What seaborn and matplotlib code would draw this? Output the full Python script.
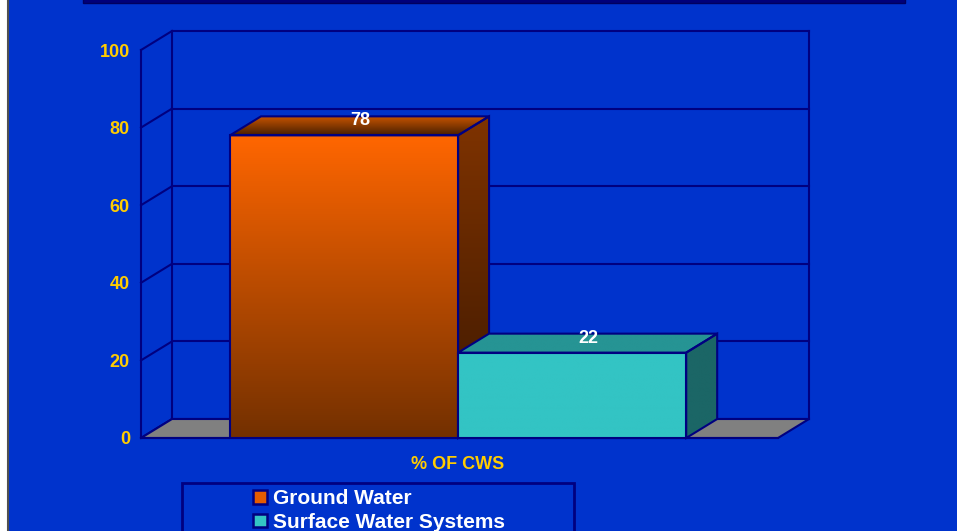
import numpy as np
import pandas as pd
import matplotlib
matplotlib.use('Agg')
import matplotlib.pyplot as plt
from matplotlib.patches import Polygon, Rectangle
from matplotlib.lines import Line2D
import matplotlib.colors as mcolors
import seaborn as sns

# ---------------- data ----------------
category = ["% OF CWS"]
series = ["Ground Water", "Surface Water Systems"]
values = [78, 22]
yticks = [0, 20, 40, 60, 80, 100]

# ---------------- style ----------------
BG = '#0033CC'
NAVY = '#000080'
YELLOW = '#FFCC00'
ORANGE = '#FF6600'
TEAL = '#33C4C4'
face_cols = {
    "Ground Water": dict(front=('#FF6600', '#733000'), top=('#C85400', '#4A2000'),
                         side=('#7F3300', '#3D1800'), legend='#E45C00'),
    "Surface Water Systems": dict(front=(TEAL, TEAL), top=('#269494', '#269494'),
                                  side=('#1B6666', '#1B6666'), legend=TEAL),
}

sns.set_style('white')
plt.rcParams['font.family'] = ['Liberation Sans', 'DejaVu Sans']

W, H = 957, 531
fig = plt.figure(figsize=(W / 100, H / 100), dpi=100, facecolor=BG)
ax = fig.add_axes([141 / W, (H - 438) / H, (778 - 141) / W, (438 - 50) / H])
ax.set_facecolor('none')

df = pd.DataFrame({'cat': category * len(series), 'series': series, 'value': values})
sns.barplot(data=df, x='cat', y='value', hue='series', hue_order=series,
            palette=[ORANGE, TEAL], width=0.8, saturation=1,
            edgecolor=NAVY, linewidth=1.5, ax=ax, legend=False)

XL, XR = -0.556, 0.561
ax.set_xlim(XL, XR)
ax.set_ylim(0, 100)

# depth offset (31 px right, 19 px up) converted to data units
p0 = ax.transData.transform((0, 0))
p1 = p0 + np.array([31, 19]) * fig.dpi / 100
ddx, ddy = ax.transData.inverted().transform(p1)


def grad_fill(clip, pts, top_col, bot_col, z):
    xs = [v[0] for v in pts]
    ys = [v[1] for v in pts]
    c0 = np.array(mcolors.to_rgb(bot_col))
    c1 = np.array(mcolors.to_rgb(top_col))
    t = np.linspace(0, 1, 128)[:, None]
    arr = (c0 * (1 - t) + c1 * t)[:, None, :]
    im = ax.imshow(arr, extent=[min(xs), max(xs), min(ys), max(ys)], origin='lower',
                   aspect='auto', interpolation='bilinear', zorder=z)
    im.set_clip_path(clip)
    im.set_clip_on(True)
    return im


# ---------------- back wall, side wall, floor ----------------
lkw = dict(color=NAVY, lw=1.5, clip_on=False, solid_capstyle='projecting')
for v in yticks:
    ax.plot([XL + ddx, XR + ddx], [v + ddy, v + ddy], zorder=1, **lkw)
    ax.plot([XL, XL + ddx], [v, v + ddy], zorder=1, **lkw)
ax.plot([XL + ddx, XL + ddx], [ddy, 100 + ddy], zorder=1, **lkw)
ax.plot([XR + ddx, XR + ddx], [ddy, 100 + ddy], zorder=1, **lkw)
floor = Polygon([(XL, 0), (XR, 0), (XR + ddx, ddy), (XL + ddx, ddy)], closed=True,
                facecolor='#808080', edgecolor=NAVY, lw=1.5, zorder=1.5, clip_on=False)
ax.add_patch(floor)

# ---------------- 3D bars ----------------
bars = sorted([p for p in ax.patches if isinstance(p, Rectangle)], key=lambda p: p.get_x())
for i, (p, name, val) in enumerate(zip(bars, series, values)):
    z = 3 + i
    cols = face_cols[name]
    x0, w, h = p.get_x(), p.get_width(), p.get_height()
    x1 = x0 + w
    p.set_clip_on(False)
    # front face gradient
    grad_fill(p, [(x0, 0), (x1, h)], cols['front'][0], cols['front'][1], z + 0.1)
    p.set_facecolor('none')
    p.set_zorder(z + 0.3)
    # top face
    top_pts = [(x0, h), (x1, h), (x1 + ddx, h + ddy), (x0 + ddx, h + ddy)]
    top = Polygon(top_pts, closed=True, facecolor='none', edgecolor=NAVY, lw=1.5,
                  zorder=z + 0.3, clip_on=False)
    ax.add_patch(top)
    grad_fill(top, top_pts, cols['top'][0], cols['top'][1], z + 0.1)
    # side face
    side_pts = [(x1, 0), (x1, h), (x1 + ddx, h + ddy), (x1 + ddx, ddy)]
    side = Polygon(side_pts, closed=True, facecolor='none', edgecolor=NAVY, lw=1.5,
                   zorder=z + 0.3, clip_on=False)
    ax.add_patch(side)
    grad_fill(side, side_pts, cols['side'][0], cols['side'][1], z + 0.1)
    # value label
    ax.annotate(f'{val}', xy=(x0 + w / 2, h), xytext=(11.5, 10.5), textcoords='offset points',
                ha='center', va='center', color='white', fontweight='bold', fontsize=13,
                zorder=10, annotation_clip=False)

ax.set_xlim(XL, XR)
ax.set_ylim(0, 100)

# ---------------- axes ----------------
for s in ['top', 'right']:
    ax.spines[s].set_visible(False)
for s in ['left', 'bottom']:
    ax.spines[s].set_color(NAVY)
    ax.spines[s].set_linewidth(1.5)
    ax.spines[s].set_zorder(2)
ax.set_yticks(yticks)
ax.set_yticklabels([str(v) for v in yticks], fontweight='bold')
ax.tick_params(axis='y', length=5, width=1.5, color=NAVY, direction='out', pad=3,
               labelcolor=YELLOW, labelsize=13)
ax.set_xticks([0])
ax.set_xticklabels(category, fontweight='bold')
ax.set_xticks([XL, XR], minor=True)
ax.tick_params(axis='x', which='major', length=0, pad=13, labelcolor=YELLOW, labelsize=13)
ax.tick_params(axis='x', which='minor', length=6, width=1.5, color=NAVY, direction='out')
ax.set_xlabel('')
ax.set_ylabel('')
ax.grid(False)

# ---------------- legend ----------------
handles = [Rectangle((0, 0), 1, 1, facecolor=face_cols[n]['legend'], edgecolor=NAVY, lw=1.8)
           for n in series]
fig.legend(handles, series, loc='upper left', bbox_to_anchor=(253 / W, 1 - 489 / H),
           frameon=False, prop=dict(weight='bold', size=15), labelcolor='white',
           handlelength=0.65, handleheight=0.65, handletextpad=0.3, labelspacing=0.23,
           borderpad=0, borderaxespad=0)
fig.add_artist(Rectangle((182 / W, -0.05), (574 - 182) / W, (H - 483) / H + 0.05,
                         transform=fig.transFigure, fill=False, edgecolor=NAVY, lw=2))

# title box edge at top and left frame edge
fig.add_artist(Rectangle((83 / W, 1 - 3 / H), (905 - 83) / W, 0.05, transform=fig.transFigure,
                         facecolor='#00007A', edgecolor='#000060', lw=1))
fig.add_artist(Rectangle((0, 0), 7 / W, 1, transform=fig.transFigure,
                         facecolor='white', edgecolor='none'))
fig.add_artist(Line2D([7.8 / W, 7.8 / W], [0, 1], transform=fig.transFigure,
                      color='#505050', lw=1.5))

fig.savefig('out.png', dpi=100, facecolor=BG)
